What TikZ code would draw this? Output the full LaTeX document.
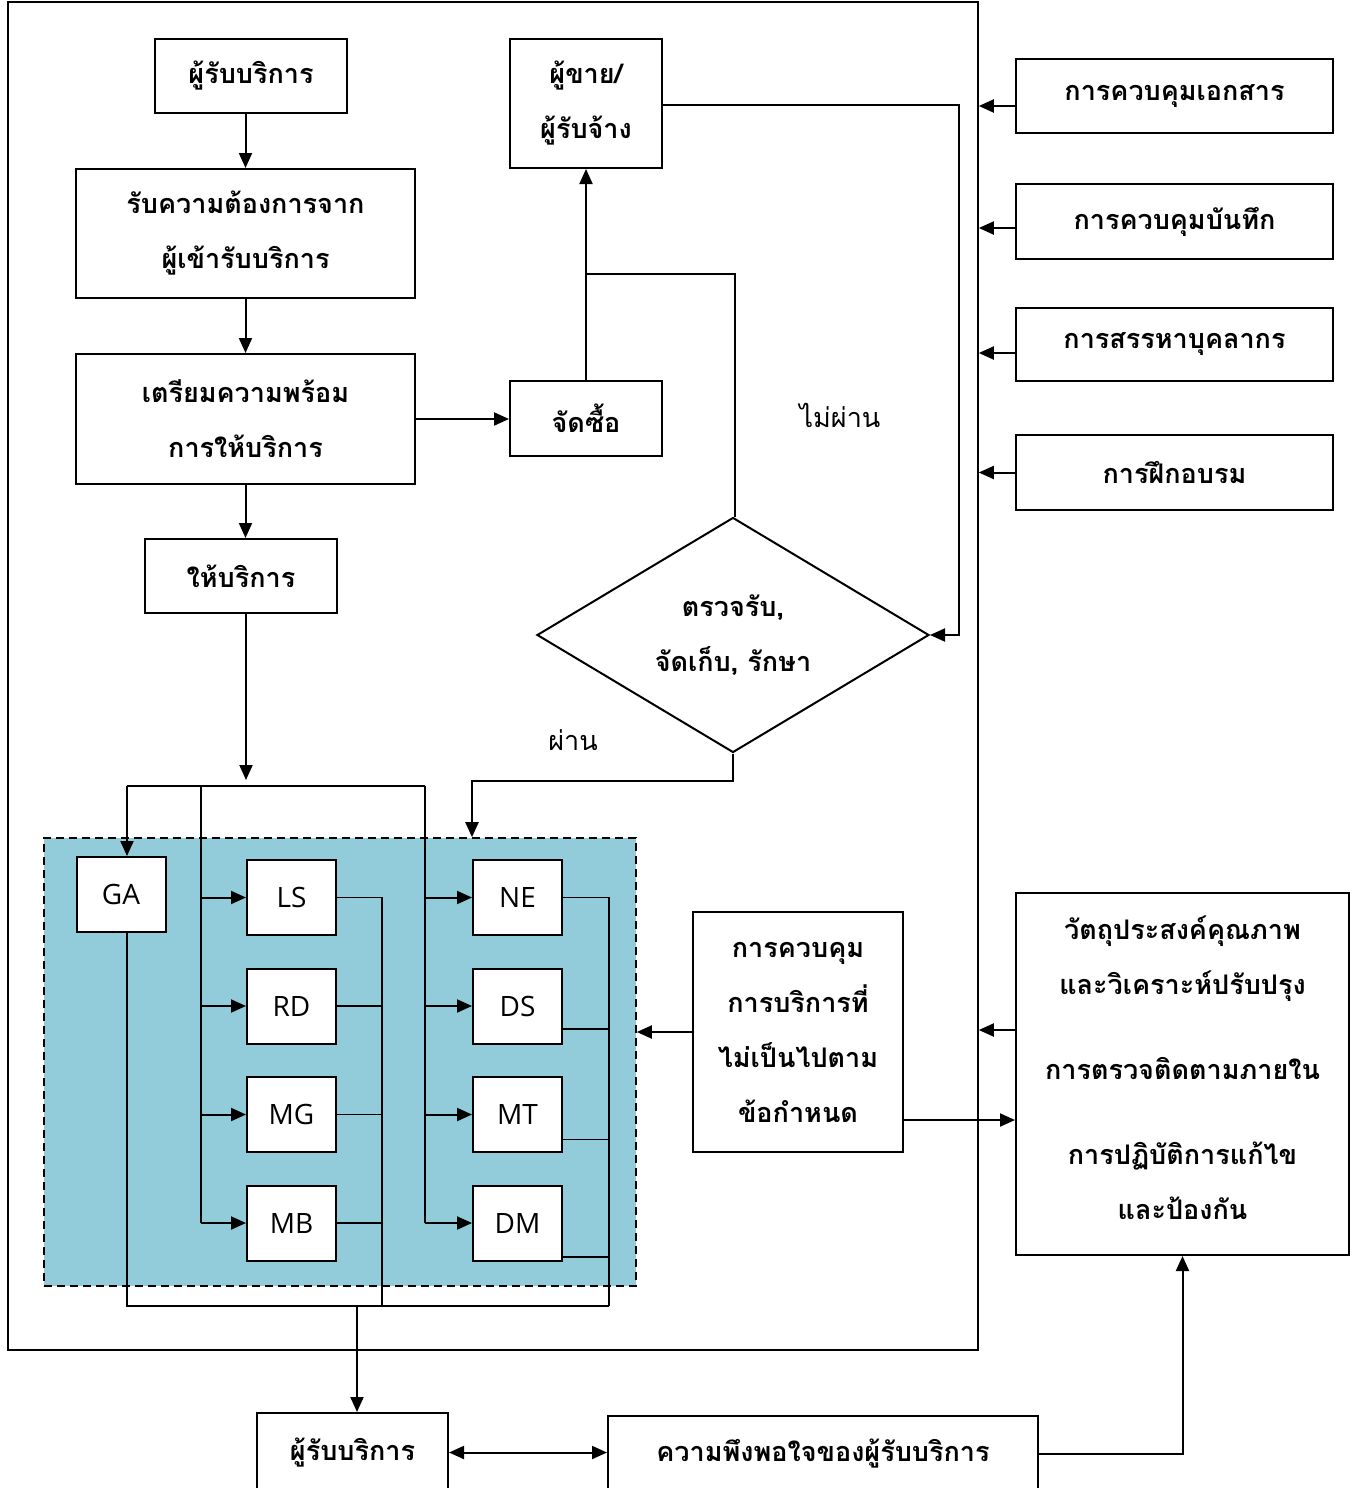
\documentclass[tikz,border=0pt]{standalone}
\usepackage{fontspec}
\setmainfont[Script=Thai]{Loma}
\newfontfamily\unitfont{Open Sans}
\usepackage{tikz}
\usetikzlibrary{arrows.meta,calc,shapes.geometric}

\definecolor{zoneblue}{RGB}{146,203,217}

\begin{document}
\begin{tikzpicture}[
        x=0.5pt, y=-0.5pt,
        >={Triangle[length=7.5pt,width=6.5pt]},
        box/.style={
            draw,
            line width=1pt,
            fill=white,
            align=center,
            inner sep=2pt,
            font=\fontsize{13.5}{27.5}\selectfont\bfseries
        },
        unit/.style={
            draw,
            line width=1pt,
            fill=white,
            inner sep=0pt,
            minimum width=44.5pt,
            minimum height=37.5pt,
            font=\unitfont\fontsize{14}{16}\selectfont
        },
        arrow/.style={
            ->,
            line width=1pt
        },
        link/.style={
            line width=0.8pt
        },
        note/.style={
            font=\fontsize{13.5}{16}\selectfont
        }
    ]

        \useasboundingbox (0,0) rectangle (1360,1488);

        % department area and outer frame
        \node[draw, line width=0.8pt, dash pattern=on 4pt off 2.5pt, fill=zoneblue,
            minimum width=296pt, minimum height=224pt] (zone) at (340,1062) {};
        \node[draw, line width=0.8pt, minimum width=485pt, minimum height=674pt] (frame) at (493,676) {};

        % main flow
        \node[box, minimum width=96pt, minimum height=37pt] (cust) at (251,76) {ผู้รับบริการ};
        \node[box, minimum width=169.5pt, minimum height=64.5pt] (req) at (245.5,233.5) {รับความต้องการจาก\\ผู้เข้ารับบริการ};
        \node[box, minimum width=169.5pt, minimum height=65pt] (prep) at (245.5,419) {เตรียมความพร้อม\\การให้บริการ};
        \node[box, minimum width=96pt, minimum height=37pt] (serve) at (241,576) {ให้บริการ};
        \node[box, minimum width=76pt, minimum height=37.5pt] (buy) at (586,418.5) {จัดซื้อ};
        \node[box, minimum width=76pt, minimum height=64.5pt] (vendor) at (586,103.5) {ผู้ขาย/\\ผู้รับจ้าง};
        \node[box, shape=diamond, aspect=1.67, inner sep=0pt,
            minimum width=196pt, minimum height=117.5pt] (chk) at (733,635) {ตรวจรับ,\\จัดเก็บ, รักษา};

        \node[note] (fail) at (840,415) {ไม่ผ่าน};
        \node[note] (pass) at (573,740) {ผ่าน};

        % support processes
        \node[box, minimum width=158.5pt, minimum height=37pt] (doc) at (1174.5,96) {การควบคุมเอกสาร};
        \node[box, minimum width=158.5pt, minimum height=37.5pt] (rec) at (1174.5,221.5) {การควบคุมบันทึก};
        \node[box, minimum width=158.5pt, minimum height=36.5pt] (hr) at (1174.5,344.5) {การสรรหาบุคลากร};
        \node[box, minimum width=158.5pt, minimum height=37.5pt] (train) at (1174.5,472.5) {การฝึกอบรม};
        \node[box, minimum width=166.5pt, minimum height=181pt] (obj) at (1182.5,1074)
            {วัตถุประสงค์คุณภาพ\\และวิเคราะห์ปรับปรุง\\[15pt]การตรวจติดตามภายใน\\[15pt]การปฏิบัติการแก้ไข\\และป้องกัน\\[-21pt]\mbox{}};
        \node[box, minimum width=105pt, minimum height=120pt] (nc) at (798,1032)
            {การควบคุม\\การบริการที่\\ไม่เป็นไปตาม\\ข้อกำหนด};

        \node[box, minimum width=95.5pt, minimum height=39.5pt] (cust2) at (352.5,1452.5) {ผู้รับบริการ};
        \node[box, minimum width=215pt, minimum height=38pt] (sat) at (823,1454) {ความพึงพอใจของผู้รับบริการ};

        % units
        \node[unit] (GA) at (121,894.5) {GA};
        \node[unit] (LS) at (291.5,897.5) {LS};
        \node[unit] (RD) at (291.5,1006) {RD};
        \node[unit] (MG) at (291.5,1114.5) {MG};
        \node[unit] (MB) at (291.5,1223) {MB};
        \node[unit] (NE) at (517.5,897.5) {NE};
        \node[unit] (DS) at (517.5,1006) {DS};
        \node[unit] (MT) at (517.5,1114.5) {MT};
        \node[unit] (DM) at (517.5,1223) {DM};

        \coordinate (hub) at (246,786);
        \coordinate (busL) at (127,786);
        \coordinate (busM) at (201,786);
        \coordinate (busR) at (425,786);
        \coordinate (sinkA) at (382,1306);
        \coordinate (sinkB) at (609,1306);
        \coordinate (out) at (357,1306);
        \coordinate (tap) at (586,274);
        \coordinate (drop) at (472,781);

        \draw[arrow] (cust.south -| req.north) -- (req.north);
        \draw[arrow] (req.south) -- (prep.north);
        \draw[arrow] (prep.south) -- (prep.south |- serve.north);
        \draw[arrow] (prep.east) -- (prep.east -| buy.west);
        \draw[arrow] (buy.north) -- (vendor.south);
        \draw[arrow] (serve.south -| hub) -- ([yshift=3pt]hub);

        \draw[arrow] ([yshift=-0.75pt]vendor.east) -| ($(chk.east)+(29,0)$) -- (chk.east);
        \draw[line width=1pt] ([xshift=1pt]chk.north) |- (tap);
        \draw[arrow] (chk.south) |- (drop) -- (drop |- zone.north);

        % distribution to the units
        \draw[link] (busL) -- (busR);
        \draw[arrow] (busL) -- (busL |- GA.north);
        \draw[link] (busM) -- (busM |- MB);
        \draw[link] (busR) -- (busR |- DM);
        \foreach \n in {LS,RD,MG,MB}
            \draw[arrow] (busM |- \n) -- (\n.west);
        \foreach \n in {NE,DS,MT,DM}
            \draw[arrow] (busR |- \n) -- (\n.west);

        % collection from the units
        \draw[link] (busL |- GA.south) -- (busL |- out) -- (sinkB);
        \draw[link] (LS.east) -| (sinkA);
        \foreach \n in {RD,MG,MB}
            \draw[link] (\n.east) -- (\n.east -| sinkA);
        \draw[link] (NE.east) -| (sinkB);
        \foreach \n/\s in {DS/-11.5pt,MT/-12.5pt,DM/-17pt}
            \draw[link] ([yshift=\s]\n.east) -- ([yshift=\s]\n.east -| sinkB);
        \draw[arrow] (out) -- (out |- cust2.north);

        % support inputs
        \foreach \n/\s in {doc/-5pt,rec/-3.25pt,hr/-4.25pt,train/0pt}
            \draw[arrow] ([yshift=\s]\n.west) -- ([yshift=\s]\n.west -| frame.east);
        \draw[arrow] ([yshift=22pt]obj.west) -- ([yshift=22pt]obj.west -| frame.east);
        \draw[arrow] (nc.west) -- (nc.west -| zone.east);
        \draw[arrow] ([yshift=-44pt]nc.east) -- ([yshift=-44pt]nc.east -| obj.west);

        \draw[<->, line width=1pt] (cust2.east) -- (cust2.east -| sat.west);
        \draw[arrow] (sat.east) -| (obj.south);

    \end{tikzpicture}
\end{document}
